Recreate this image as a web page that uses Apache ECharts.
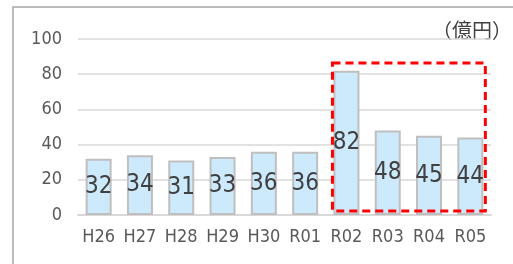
<!DOCTYPE html>
<html><head><meta charset="utf-8">
<script src="https://cdn.jsdelivr.net/npm/echarts@6/dist/echarts.min.js"></script>
<style>html,body{margin:0;padding:0;background:#fff}#c{width:513px;height:264px}</style>
</head><body><div id="c"></div>
<script>
const categories = ['H26','H27','H28','H29','H30','R01','R02','R03','R04','R05'];
const values = [32,34,31,33,36,36,82,48,45,44];
const yTicks = [0,20,40,60,80,100];
const unitLabel = '（億円）';
const highlightFrom = 'R02', highlightTo = 'R05';
const highlightTop = 86.4, highlightBottom = 2.3;

const FONT = '"DejaVu Sans Condensed","Liberation Sans Narrow",sans-serif';
const chart = echarts.init(document.getElementById('c'));
const frame = {type:'rect',shape:{x:13,y:7,width:600,height:400},style:{fill:'none',stroke:'#a6a6a6',lineWidth:1.5},silent:true};
const unit = {type:'text',right:1,top:20,style:{text:unitLabel,fill:'#404040',fontSize:20,fontFamily:'"Noto Sans CJK JP",sans-serif'}};
chart.setOption({
  animation:false,
  grid:{left:78,right:22,top:39,bottom:49},
  xAxis:{type:'category',data:categories,
    axisLine:{lineStyle:{color:'#d9d9d9',width:2}},axisTick:{show:false},
    axisLabel:{color:'#595959',fontSize:18,fontFamily:FONT,margin:13,interval:0}},
  yAxis:{type:'value',min:yTicks[0],max:yTicks[yTicks.length-1],interval:20,
    axisLine:{show:false},axisTick:{show:false},
    splitLine:{lineStyle:{color:'#d9d9d9',width:1.5}},
    axisLabel:{color:'#595959',fontSize:18,fontFamily:FONT,margin:16}},
  series:[{type:'bar',data:values,barWidth:26,
    itemStyle:{color:'#cdeafc',borderColor:'#bfbfbf',borderWidth:2},
    label:{show:true,position:'inside',color:'#404040',fontSize:24,fontFamily:FONT}}],
  graphic:[frame, unit]
});
const bw = 26;
const p1 = chart.convertToPixel({seriesIndex:0},[highlightFrom, highlightTop]);
const p2 = chart.convertToPixel({seriesIndex:0},[highlightTo, highlightBottom]);
const x1 = p1[0]-bw/2-1, x2 = p2[0]+bw/2+2;
chart.setOption({graphic:[frame, unit,
  {type:'rect',shape:{x:x1,y:p1[1],width:x2-x1,height:p2[1]-p1[1]},
   style:{fill:'none',stroke:'#ff0000',lineWidth:3,lineDash:[8,5]},silent:true,z:100}
]});
</script></body></html>
